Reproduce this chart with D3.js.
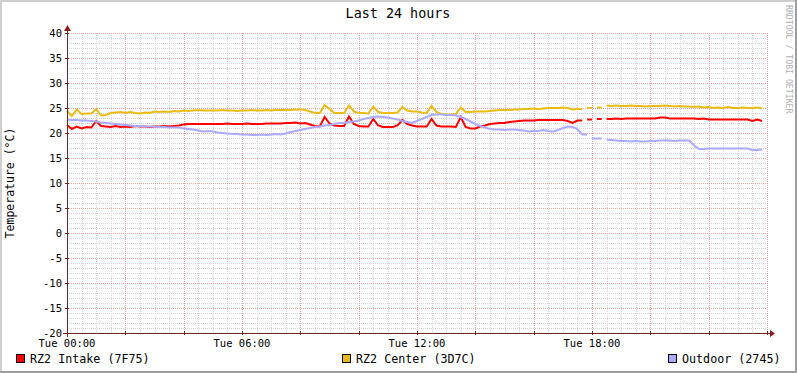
<!DOCTYPE html>
<html>
<head>
<meta charset="utf-8">
<script src="https://cdn.jsdelivr.net/npm/d3@7"></script>
<style>
  body { margin: 0; background: #fff; }
  svg { display: block; font-family: "DejaVu Sans Mono", monospace; }
</style>
</head>
<body>
<svg width="797" height="373"></svg>
<script>
// samples every 10 minutes, starting Tue 00:00 (null = no data)
const intake = [
  21.6, 20.8, 21.3, 20.9, 21.2, 21.1, 22.4, 21.4, 21.3, 21.2, 21.4, 21.2, 21.3, 21.2, 21.4, 21.3, 21.3, 21.2, 21.3, 21.3,
  21.4, 21.3, 21.4, 21.5, 21.7, 21.8, 21.8, 21.8, 21.8, 21.8, 21.8, 21.8, 21.8, 21.9, 21.8, 21.8, 21.8, 21.9, 21.8, 21.8,
  21.8, 21.9, 21.9, 21.9, 21.9, 22.0, 22.0, 22.1, 21.9, 22.0, 21.7, 21.4, 21.3, 23.2, 21.9, 21.5, 21.4, 21.4, 23.3, 21.8,
  21.4, 21.3, 21.3, 22.8, 21.5, 21.2, 21.2, 21.2, 21.5, 22.6, 21.8, 21.5, 21.3, 21.3, 21.3, 22.8, 21.5, 21.3, 21.3, 21.3,
  21.2, 23.2, 21.2, 20.9, 20.9, 21.3, 21.5, 21.8, 21.9, 22.0, 22.0, 22.2, 22.3, 22.4, 22.5, 22.5, 22.5, 22.6, 22.6, 22.6,
  22.6, 22.6, 22.6, 22.4, 22.0, 22.5, null, 22.7, null, 22.8, null, 22.8, 22.8, 22.9, 22.8, 22.9, 22.9, 22.9, 22.9, 22.9,
  22.9, 22.9, 23.1, 23.1, 22.9, 22.9, 22.9, 22.9, 22.9, 22.9, 22.8, 22.9, 22.7, 22.7, 22.7, 22.7, 22.7, 22.7, 22.7, 22.7,
  22.7, 22.4, 22.7, 22.4
]
const center = [
  24.4, 23.4, 24.7, 23.8, 23.9, 23.9, 24.8, 23.5, 23.6, 24.0, 24.1, 24.2, 24.0, 24.2, 24.0, 23.9, 24.1, 24.0, 24.3, 24.2,
  24.3, 24.2, 24.4, 24.3, 24.5, 24.4, 24.5, 24.6, 24.5, 24.5, 24.5, 24.5, 24.6, 24.5, 24.5, 24.4, 24.5, 24.5, 24.6, 24.5,
  24.5, 24.6, 24.5, 24.6, 24.6, 24.6, 24.6, 24.7, 24.7, 24.6, 24.3, 24.0, 24.0, 25.6, 24.8, 24.0, 24.0, 24.0, 25.5, 24.3,
  24.0, 24.0, 23.9, 25.3, 24.2, 24.0, 24.0, 24.0, 24.1, 25.2, 24.5, 24.3, 24.3, 24.1, 24.0, 25.4, 24.2, 23.8, 23.7, 23.7,
  23.8, 25.1, 24.2, 24.2, 24.3, 24.3, 24.3, 24.4, 24.5, 24.6, 24.6, 24.6, 24.7, 24.7, 24.8, 24.8, 24.9, 24.8, 24.9, 25.0,
  25.0, 25.0, 25.1, 25.0, 24.7, 24.8, null, 25.0, null, 25.1, null, 25.5, 25.4, 25.5, 25.4, 25.4, 25.5, 25.4, 25.4, 25.3,
  25.4, 25.4, 25.4, 25.5, 25.4, 25.3, 25.4, 25.3, 25.3, 25.2, 25.3, 25.1, 25.2, 25.0, 25.1, 25.0, 25.2, 25.0, 25.0, 25.1,
  25.0, 25.0, 25.1, 24.9
]
const outdoor = [
  22.7, 22.6, 22.6, 22.5, 22.5, 22.4, 22.3, 22.1, 22.0, 21.9, 21.8, 21.7, 21.6, 21.5, 21.4, 21.4, 21.3, 21.3, 21.3, 21.2,
  21.2, 21.1, 21.1, 21.1, 20.9, 20.8, 20.7, 20.5, 20.3, 20.4, 20.3, 20.1, 20.0, 19.9, 19.8, 19.8, 19.7, 19.7, 19.6, 19.6,
  19.7, 19.6, 19.7, 19.8, 19.7, 19.9, 20.2, 20.4, 20.6, 20.8, 21.0, 21.2, 21.3, 21.5, 21.6, 21.8, 22.0, 22.0, 22.2, 22.3,
  22.5, 22.8, 23.0, 23.2, 23.3, 23.2, 23.1, 22.9, 22.7, 22.4, 22.2, 22.0, 22.4, 22.8, 23.2, 23.6, 23.7, 23.7, 23.6, 23.6,
  23.5, 23.2, 22.8, 22.3, 21.8, 21.4, 21.1, 20.8, 20.7, 20.7, 20.6, 20.7, 20.7, 20.6, 20.5, 20.3, 20.4, 20.4, 20.6, 20.4,
  20.3, 20.6, 21.0, 21.3, 21.2, 20.8, 19.7, null, 18.9, 18.9, null, 18.7, 18.6, 18.5, 18.4, 18.4, 18.3, 18.4, 18.3, 18.3,
  18.4, 18.4, 18.5, 18.5, 18.5, 18.4, 18.5, 18.5, 18.5, 17.5, 16.8, 16.8, 16.9, 16.9, 16.9, 16.9, 16.9, 16.9, 16.9, 16.9,
  16.9, 16.6, 16.6, 16.7
]
const seriesNames = ['RZ2 Intake (7F75)', 'RZ2 Center (3D7C)', 'Outdoor (2745)']
const seriesColors = ['#ff0000', '#eabb14', '#aaaaff']
const xTickHours = [0, 6, 12, 18]
const xTickLabels = ['Tue 00:00', 'Tue 06:00', 'Tue 12:00', 'Tue 18:00']
const yTicks = [-20, -15, -10, -5, 0, 5, 10, 15, 20, 25, 30, 35, 40]

const svg = d3.select('svg')
const W = 797, H = 373
const plot = {left: 67, right: 767, top: 33, bottom: 333}

const x = d3.scaleLinear().domain([0, 24]).range([plot.left, plot.right])
const y = d3.scaleLinear().domain([-20, 40]).range([plot.bottom, plot.top])

// frame with shading
svg.append('rect').attr('width', W).attr('height', H).attr('fill', '#ffffff')
svg.append('rect').attr('x', 0).attr('y', 0).attr('width', W).attr('height', 2).attr('fill', '#cfcfcf')
svg.append('rect').attr('x', 0).attr('y', 0).attr('width', 2).attr('height', H).attr('fill', '#cfcfcf')
svg.append('rect').attr('x', 0).attr('y', H - 2).attr('width', W).attr('height', 2).attr('fill', '#9e9e9e')
svg.append('rect').attr('x', W - 2).attr('y', 0).attr('width', 2).attr('height', H).attr('fill', '#9e9e9e')

// grid
const grid = svg.append('g').attr('shape-rendering', 'crispEdges')
const minorX = d3.range(0, 24.01, 0.5).filter(h => h % 2 !== 0)
const majorX = d3.range(2, 24.01, 2)
const minorY = d3.range(-20, 40.01, 1).filter(v => v % 5 !== 0)
const majorY = yTicks.filter(v => v !== -20)

grid.selectAll('.minx').data(minorX).enter().append('line')
  .attr('x1', d => Math.round(x(d)) + 0.5).attr('x2', d => Math.round(x(d)) + 0.5)
  .attr('y1', plot.top).attr('y2', plot.bottom)
  .attr('stroke', '#d4d4d4').attr('stroke-dasharray', '1,1')
grid.selectAll('.miny').data(minorY).enter().append('line')
  .attr('x1', plot.left).attr('x2', plot.right)
  .attr('y1', d => Math.round(y(d)) + 0.5).attr('y2', d => Math.round(y(d)) + 0.5)
  .attr('stroke', '#d4d4d4').attr('stroke-dasharray', '1,1')
grid.selectAll('.majx').data(majorX).enter().append('line')
  .attr('x1', d => Math.round(x(d)) + 0.5).attr('x2', d => Math.round(x(d)) + 0.5)
  .attr('y1', plot.top).attr('y2', plot.bottom)
  .attr('stroke', '#eea4a4').attr('stroke-dasharray', '1,1')
grid.selectAll('.majy').data(majorY).enter().append('line')
  .attr('x1', plot.left).attr('x2', plot.right)
  .attr('y1', d => Math.round(y(d)) + 0.5).attr('y2', d => Math.round(y(d)) + 0.5)
  .attr('stroke', '#eea4a4').attr('stroke-dasharray', '1,1')

// series lines
function toPoints(vals) {
  const pts = []
  vals.forEach((v, i) => {
    pts.push({h: i / 6, v: v})
    // extend a segment that ends before a gap so lone samples still show
    if (v != null && i + 1 < vals.length && vals[i + 1] == null) pts.push({h: (i + 1) / 6, v: v})
  })
  return pts
}
const line = d3.line()
  .defined(d => d.v != null)
  .x(d => x(d.h))
  .y(d => y(d.v))

;[intake, center, outdoor].forEach((vals, k) => {
  svg.append('path')
    .datum(toPoints(vals))
    .attr('d', line)
    .attr('fill', 'none')
    .attr('stroke', seriesColors[k])
    .attr('stroke-width', 2)
})

// axes
const axisColor = '#6b2a2a'
const axes = svg.append('g').attr('shape-rendering', 'crispEdges')
axes.append('line').attr('x1', plot.left - 4).attr('x2', plot.right + 3)
  .attr('y1', plot.bottom + 0.5).attr('y2', plot.bottom + 0.5).attr('stroke', axisColor)
axes.append('line').attr('x1', plot.left + 0.5).attr('x2', plot.left + 0.5)
  .attr('y1', plot.bottom + 4).attr('y2', plot.top - 3).attr('stroke', axisColor)
axes.selectAll('.ty').data(yTicks).enter().append('line')
  .attr('x1', plot.left - 2).attr('x2', plot.left + 2)
  .attr('y1', d => Math.round(y(d)) + 0.5).attr('y2', d => Math.round(y(d)) + 0.5)
  .attr('stroke', axisColor)
axes.selectAll('.tx').data(majorX.concat([0])).enter().append('line')
  .attr('x1', d => Math.round(x(d)) + 0.5).attr('x2', d => Math.round(x(d)) + 0.5)
  .attr('y1', plot.bottom - 2).attr('y2', plot.bottom + 2)
  .attr('stroke', axisColor)
// arrows
svg.append('path')
  .attr('d', `M${plot.right + 3},${plot.bottom - 3} L${plot.right + 8},${plot.bottom + 0.5} L${plot.right + 3},${plot.bottom + 4} Z`)
  .attr('fill', '#8b1c1c')
svg.append('path')
  .attr('d', `M${plot.left - 3},${plot.top - 2} L${plot.left + 0.5},${plot.top - 8} L${plot.left + 4},${plot.top - 2} Z`)
  .attr('fill', '#8b1c1c')

// tick labels
svg.selectAll('.ylab').data(yTicks).enter().append('text')
  .attr('x', plot.left - 5).attr('y', d => y(d) + 3.5)
  .attr('text-anchor', 'end').attr('font-size', 10.5).attr('fill', '#000')
  .text(d => d)
svg.selectAll('.xlab').data(xTickHours).enter().append('text')
  .attr('x', d => x(d)).attr('y', plot.bottom + 14)
  .attr('text-anchor', 'middle').attr('font-size', 10.5).attr('fill', '#000')
  .text((d, i) => xTickLabels[i])

// title, unit, watermark
svg.append('text').attr('x', 398).attr('y', 18).attr('text-anchor', 'middle')
  .attr('font-size', 13.4).attr('fill', '#000').text('Last 24 hours')
svg.append('text').attr('transform', 'translate(14,183) rotate(-90)')
  .attr('text-anchor', 'middle').attr('font-size', 11.5).attr('fill', '#000')
  .text('Temperature (°C)')
svg.append('text').attr('transform', 'translate(786,5) rotate(90)')
  .attr('text-anchor', 'start').attr('font-size', 8.2).attr('fill', '#b0b0b0')
  .text('RRDTOOL / TOBI OETIKER')

// legend
const legendX = [16, 342, 668]
const legend = svg.selectAll('.leg').data(seriesNames).enter().append('g')
  .attr('transform', (d, i) => `translate(${legendX[i]},354)`)
legend.append('rect').attr('x', 0.5).attr('y', 0.5).attr('width', 8).attr('height', 8)
  .attr('fill', (d, i) => seriesColors[i]).attr('stroke', '#000').attr('shape-rendering', 'crispEdges')
legend.append('text').attr('x', 14).attr('y', 9).attr('font-size', 11.7).attr('fill', '#000')
  .text(d => d)
</script>
</body>
</html>
